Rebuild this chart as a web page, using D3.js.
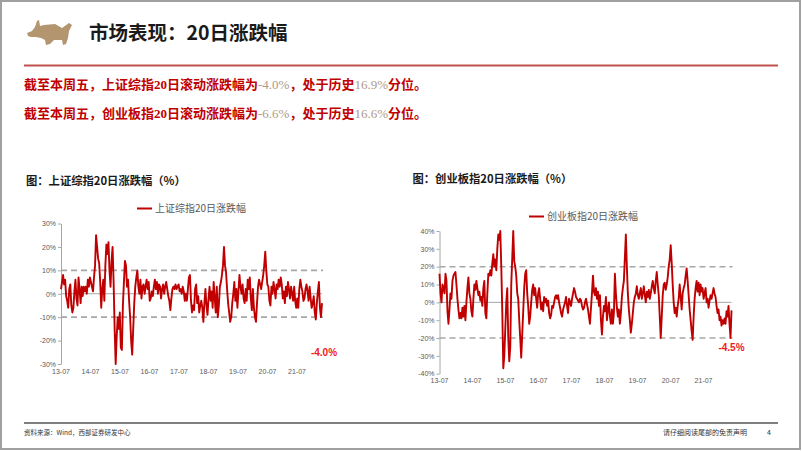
<!DOCTYPE html>
<html><head><meta charset="utf-8">
<script src="https://cdn.jsdelivr.net/npm/d3@7"></script>
<style>body{margin:0;background:#fff} svg{display:block}</style>
</head><body>
<svg id="c" width="802" height="451"></svg>
<script>
// ---------- DATA ----------
const sseValues = [
2,5,8,4,6,-1,-3,-6,2,4,
-5,-8,-6,1,6,-2,-5,7,2,-4,
3,-1,3,1,3,0,6,3,7,5,
3,1,7,12,25,20,15,13,5,-6,
2,6,-3,12,21,17,22,10,3,14,
20,5,-15,-30,-18,-10,-15,-8,-23,-24,
-5,5,14,12,3,6,-3,-10,-20,-26,
-15,-4,3,7,10,3,0,6,-2,3,
4,0,3,6,2,5,-3,-2,1,-1,
3,6,2,5,0,4,3,-2,2,4,
0,3,5,2,-1,-3,-7,-2,2,3,
2,4,2,3,4,1,2,0,3,1,
-3,
0,-3,2,7,8,-3,-8,-5,-7,2,
4,-4,-1,-8,-5,-3,-6,-12,-4,2,
-5,-9,-2,3,-3,1,-6,5,-2,-8,
3,-10,-5,3,5,8,12,20,12,9,
2,-4,-8,-12,-10,-4,0,5,-3,2,
-6,1,8,3,0,4,-2,-4,2,-3,
6,2,7,-2,-7,2,-6,-10,-12,-4,
3,6,4,2,5,8,12,18,10,4,
3,-3,-5,3,0,5,2,-2,4,2,
6,3,7,4,-2,1,-4,3,-1,5,
2,-2,3,0,-3,3,-3,-6,-2,-6,
2,6,3,1,-3,-2,2,4,1,-3,
3,-2,-6,-4,-1,-8,-11,-4,1,5,
-6,-10,-4
];
const cybValues = [
16,5,0,10,8,5,16,12,-5,-12,
-4,5,2,12,15,16,17,10,2,-4,
-9,-6,-9,-3,-8,-2,-10,0,8,14,
5,2,-5,-8,2,10,7,12,8,4,
6,1,3,-2,8,12,-6,-9,5,16,
15,18,15,22,27,20,24,18,30,38,
35,40,20,-5,-37,-30,-15,0,8,-20,
-33,-25,10,25,40,23,20,15,5,2,
-10,-20,-31,-18,-5,8,16,18,5,-2,
-12,-8,0,7,10,4,8,2,-3,5,
8,2,-4,0,-5,3,0,2,-2,1,
-6,-9,-7,-2,-3,0,3,4,2,4,
0,-3,-6,-8,-4,-2,0,3,-2,-6,
2,0,-2,2,5,8,6,3,2,1,
0,2,1,-2,-4,-3,
0,2,-1,-4,-8,-12,-3,5,15,6,
4,8,2,6,-2,4,-10,-18,-8,-2,
-5,3,-10,-4,0,-8,-12,-4,-12,-6,
16,5,-3,-8,-4,-12,-6,3,8,12,
25,38,20,5,-4,-10,-17,-12,-6,0,
3,5,9,4,2,5,8,2,5,9,
4,0,6,3,7,2,5,9,12,8,
5,12,17,10,4,-8,-20,-8,4,10,
11,7,10,14,20,24,32,22,10,0,
-6,-3,-8,-2,2,10,3,-4,5,8,
10,15,19,12,4,-4,-10,-16,-21,-8,
2,8,12,6,11,4,10,6,8,2,
5,8,0,2,-3,1,4,2,5,8,
5,3,-2,-6,-4,-10,-8,-13,-10,-12,
-9,-12,-5,-8,-2,-12,-20,-4.5
];
const tickLabels = ["13-07","14-07","15-07","16-07","17-07","18-07","19-07","20-07","21-07"];
const sseTicks = [30,20,10,0,-10,-20,-30];
const cybTicks = [40,30,20,10,0,-10,-20,-30,-40];
const sseBands = [10,-10];
const cybBands = [20,-20];
const startDate = new Date(2013,6,1);
const endDate = new Date(2022,4,6);

// ---------- DRAW ----------
const svg = d3.select("#c");
const CJK = "'Noto Sans CJK SC','Noto Sans',sans-serif";

// frame
svg.append("rect").attr("x",1).attr("y",1).attr("width",799).attr("height",448)
  .attr("fill","none").attr("stroke","#a0a0a0").attr("stroke-width",2);

// logo (bull silhouette)
svg.append("path")
  .attr("d","M27,33 L32,31 L35,27 L37,21 L39,20 L40,26 L44,25 L55,24 L62,28 L69,23 L72,25 L69,31 L68,38 L66,44 L63,45 L62,40 L54,40 L50,44 L46,45 L45,40 L41,38 L36,37 L31,37 L28,36 Z")
  .attr("fill","#b39670");

svg.append("text").attr("x",89).attr("y",40).text("市场表现：20日涨跌幅")
  .attr("font-family",CJK).attr("font-weight",700).attr("font-size",19.5).attr("fill","#1a1a1a");

svg.append("line").attr("x1",24).attr("x2",778).attr("y1",65.5).attr("y2",65.5)
  .attr("stroke","#c0504d").attr("stroke-width",2);

function infoLine(y, idx, a, b) {
  const t = svg.append("text").attr("x",24).attr("y",y)
    .attr("font-family",CJK).attr("font-weight",700).attr("font-size",13).attr("fill","#c00000");
  t.append("tspan").text("截至本周五，"+idx);
  t.append("tspan").text("20").attr("font-family","'Liberation Serif',serif");
  t.append("tspan").text("日滚动涨跌幅为");
  t.append("tspan").text(a).attr("font-family","'Liberation Serif',serif").attr("font-weight",400).attr("fill","#b09a84");
  t.append("tspan").text("，处于历史");
  t.append("tspan").text(b).attr("font-family","'Liberation Serif',serif").attr("font-weight",400).attr("fill","#b09a84");
  t.append("tspan").text("分位。");
}
infoLine(89,"上证综指","-4.0%","16.9%");
infoLine(118,"创业板指","-6.6%","16.6%");

// footer
svg.append("line").attr("x1",24).attr("x2",778).attr("y1",423).attr("y2",423)
  .attr("stroke","#555").attr("stroke-width",1.5);
svg.append("text").attr("x",24).attr("y",435).text("资料来源：Wind，西部证券研发中心")
  .attr("font-family",CJK).attr("font-size",6.5).attr("fill","#333");
svg.append("text").attr("x",747).attr("y",435).attr("text-anchor","end").text("请仔细阅读尾部的免责声明")
  .attr("font-family",CJK).attr("font-size",7).attr("fill","#333");
svg.append("text").attr("x",767).attr("y",435).text("4")
  .attr("font-family",CJK).attr("font-size",7).attr("fill","#333");

function drawChart(cfg) {
  const g = svg.append("g");
  const x = d3.scaleTime().domain([startDate,endDate]).range([cfg.x0,cfg.x1]);
  const y = d3.scaleLinear().domain([-cfg.yMax,cfg.yMax]).range([cfg.yBot,cfg.yTop]);
  const n = cfg.values.length;
  const step = (endDate - startDate)/(n-1);
  const dateOf = i => new Date(+startDate + i*step);

  // title
  g.append("text").attr("x",cfg.titleX).attr("y",cfg.titleY).text(cfg.title)
    .attr("font-family",CJK).attr("font-weight",700).attr("font-size",11.3).attr("fill","#1a1a1a");
  // legend
  g.append("line").attr("x1",cfg.legX).attr("x2",cfg.legX+15).attr("y1",cfg.legY).attr("y2",cfg.legY)
    .attr("stroke","#c00000").attr("stroke-width",2);
  g.append("text").attr("x",cfg.legX+18).attr("y",cfg.legY+3.5).text(cfg.legend)
    .attr("font-family",CJK).attr("font-size",10).attr("fill","#595959");

  // y axis
  const ya = g.append("g").attr("transform",`translate(${cfg.x0},0)`)
    .call(d3.axisLeft(y).tickValues(cfg.ticks).tickSize(3).tickSizeOuter(0).tickPadding(2).tickFormat(d=>d+"%"));
  ya.select(".domain").attr("stroke","#a6a6a6");
  ya.selectAll(".tick line").attr("stroke","#a6a6a6");
  ya.selectAll(".tick text").attr("fill","#595959").attr("font-family","Arial,'Liberation Sans',sans-serif").attr("font-size",7);

  // zero line
  g.append("line").attr("x1",cfg.x0).attr("x2",cfg.x1).attr("y1",y(0)).attr("y2",y(0))
    .attr("stroke","#a6a6a6").attr("stroke-width",1);
  // bands
  cfg.bands.forEach(b => {
    g.append("line").attr("x1",cfg.x0).attr("x2",cfg.x1+1).attr("y1",y(b)).attr("y2",y(b))
      .attr("stroke","#a6a6a6").attr("stroke-width",1.6).attr("stroke-dasharray","6,4");
  });
  // x labels
  tickLabels.forEach(s => {
    const d = new Date(2000 + +s.slice(0,2), +s.slice(3)-1, 1);
    g.append("text").attr("x",x(d)).attr("y",cfg.xLabY).attr("text-anchor","middle").text(s)
      .attr("fill","#595959").attr("font-family","Arial,'Liberation Sans',sans-serif").attr("font-size",7);
  });
  // series
  const line = d3.line().x((d,i)=>x(dateOf(i))).y(d=>y(d));
  g.append("path").datum(cfg.values).attr("d",line).attr("fill","none")
    .attr("stroke","#c00000").attr("stroke-width",1.9).attr("stroke-linejoin","round");
  // end label
  g.append("text").attr("x",cfg.labX).attr("y",cfg.labY).attr("text-anchor","middle").text(cfg.label)
    .attr("fill","#ee1c1c").attr("font-weight",700).attr("font-family","Arial,'Liberation Sans',sans-serif").attr("font-size",10);
}

drawChart({x0:61,x1:322,yTop:223.5,yBot:364,yMax:30,values:sseValues,ticks:sseTicks,bands:sseBands,
  title:"图：上证综指20日涨跌幅（%）",titleX:26,titleY:185,legX:137,legY:208.5,legend:"上证综指20日涨跌幅",
  xLabY:373.5,label:"-4.0%",labX:324,labY:356});
drawChart({x0:439.5,x1:731.5,yTop:231,yBot:373.7,yMax:40,values:cybValues,ticks:cybTicks,bands:cybBands,
  title:"图：创业板指20日涨跌幅（%）",titleX:412.5,titleY:182.5,legX:529,legY:216.5,legend:"创业板指20日涨跌幅",
  xLabY:382.5,label:"-4.5%",labX:731.5,labY:351});
</script>
</body></html>
